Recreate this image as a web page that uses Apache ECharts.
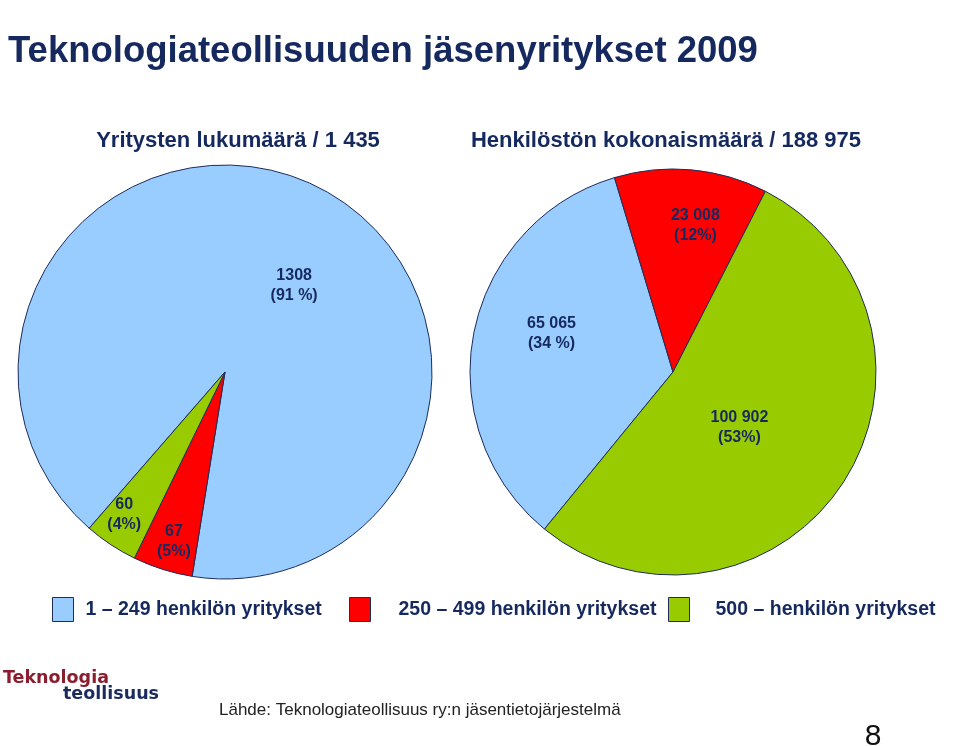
<!DOCTYPE html>
<html>
<head>
<meta charset="utf-8">
<script src="https://cdn.jsdelivr.net/npm/echarts@6/dist/echarts.min.js"></script>
<style>
html,body{margin:0;padding:0;background:#ffffff;}
#c{width:960px;height:746px;}
</style>
</head>
<body>
<div id="c"></div>
<script>
// ---- data ----
const categories = ['1 – 249 henkilön yritykset', '250 – 499 henkilön yritykset', '500 – henkilön yritykset'];
const companyCounts = [1308, 67, 60];
const companyPctLabels = ['(91 %)', '(5%)', '(4%)'];
const staffCounts = [65065, 23008, 100902];
const staffPctLabels = ['(34 %)', '(12%)', '(53%)'];
const sliceColors = ['#99ccff', '#ff0000', '#99cc00'];
const titleText = 'Teknologiateollisuuden jäsenyritykset 2009';
const leftSubtitle = 'Yritysten lukumäärä / 1 435';
const rightSubtitle = 'Henkilöstön kokonaismäärä / 188 975';
const sourceText = 'Lähde: Teknologiateollisuus ry:n jäsentietojärjestelmä';
const pageNumber = '8';

// ---- styling / layout ----
const NAVY = '#15295f';
const BORDER = '#1e2d5a';
const FONT = '"Liberation Sans", Arial, sans-serif';
const leftNudge = [[24, 10], [-19, 68], [-42, 54]];
const rightNudge = [[-19, -18], [13, -42], [-21, -2]];

function groupThousands(v) {
  return String(v).replace(/\B(?=(\d{3})+(?!\d))/g, ' ');
}

function pieSeries(name, values, pctLabels, center, radius, startAngle, nudge, grouped) {
  return {
    type: 'pie',
    name: name,
    center: center,
    radius: radius,
    startAngle: startAngle,
    clockwise: true,
    silent: true,
    animation: false,
    avoidLabelOverlap: false,
    minShowLabelAngle: 0,
    data: categories.map((c, i) => ({ name: c, value: values[i] })),
    itemStyle: { borderColor: BORDER, borderWidth: 1 },
    label: {
      show: true,
      position: 'inside',
      formatter: p => (grouped ? groupThousands(p.value) : String(p.value)) + '\n' + pctLabels[p.dataIndex],
      color: NAVY,
      fontFamily: FONT,
      fontWeight: 'bold',
      fontSize: 16,
      lineHeight: 20,
      align: 'center'
    },
    labelLine: { show: false },
    labelLayout: p => ({ dx: nudge[p.dataIndex][0], dy: nudge[p.dataIndex][1] }),
    emphasis: { disabled: true }
  };
}

function legendFor(i, left, gap) {
  return {
    data: [categories[i]],
    left: left,
    top: 592,
    orient: 'horizontal',
    icon: 'rect',
    itemWidth: 21,
    itemHeight: 24,
    selectedMode: false,
    itemStyle: { borderColor: BORDER, borderWidth: 1 },
    textStyle: {
      color: NAVY,
      fontFamily: FONT,
      fontWeight: 'bold',
      fontSize: 19.5,
      padding: [0, 0, 0, gap]
    }
  };
}

const chart = echarts.init(document.getElementById('c'), null, { renderer: 'canvas' });
chart.setOption({
  backgroundColor: '#ffffff',
  color: sliceColors,
  animation: false,
  legend: [legendFor(0, 47, 7), legendFor(1, 344, 23), legendFor(2, 663, 21)],
  series: [
    pieSeries('Yritykset', companyCounts, companyPctLabels, [225, 372], 207, 229, leftNudge, false),
    pieSeries('Henkilöstö', staffCounts, staffPctLabels, [673, 372], 203, 230.7, rightNudge, true)
  ],
  graphic: [
    { type: 'text', x: 8, y: 52, style: { text: titleText, fill: NAVY, font: 'bold 36.5px ' + FONT, textAlign: 'left', textVerticalAlign: 'middle' } },
    { type: 'text', x: 238, y: 141, style: { text: leftSubtitle, fill: NAVY, font: 'bold 22px ' + FONT, textAlign: 'center', textVerticalAlign: 'middle' } },
    { type: 'text', x: 666, y: 141, style: { text: rightSubtitle, fill: NAVY, font: 'bold 22px ' + FONT, textAlign: 'center', textVerticalAlign: 'middle' } },
    { type: 'text', x: 3, y: 678, style: { text: 'Teknologia', fill: '#8c1d2e', font: 'bold 17.5px "DejaVu Sans", sans-serif', textAlign: 'left', textVerticalAlign: 'middle' } },
    { type: 'text', x: 63, y: 694, style: { text: 'teollisuus', fill: '#1b2b5e', font: 'bold 17.5px "DejaVu Sans", sans-serif', textAlign: 'left', textVerticalAlign: 'middle' } },
    { type: 'text', x: 219, y: 710, style: { text: sourceText, fill: '#222222', font: '17px ' + FONT, textAlign: 'left', textVerticalAlign: 'middle' } },
    { type: 'text', x: 873, y: 737, style: { text: pageNumber, fill: '#111111', font: '30px ' + FONT, textAlign: 'center', textVerticalAlign: 'middle' } }
  ]
});
</script>
</body>
</html>
